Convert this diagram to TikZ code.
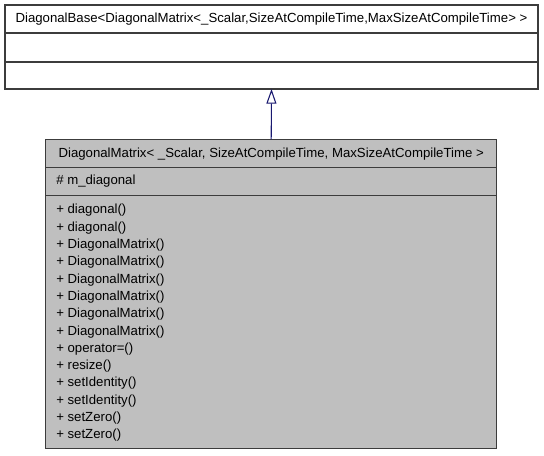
\documentclass[tikz,border=0pt]{standalone}
\usepackage{fontspec}
\setmainfont{Liberation Sans}
\usepackage{xcolor}
\usepackage{tikz}
\usetikzlibrary{arrows.meta,positioning}
\definecolor{classgray}{RGB}{191,191,191}
\definecolor{edgeblue}{RGB}{25,25,112}
\definecolor{framegray}{RGB}{60,60,60}
\tikzset{
  classbox/.style={draw=framegray,line width=0.8pt,inner sep=0pt,outer sep=0pt},
  basebox/.style={classbox,fill=white,minimum width=399.75pt},
  derivedbox/.style={classbox,fill=classgray,minimum width=338.25pt},
  member/.style={anchor=base west,inner sep=0pt},
  inherit/.style={-{Triangle[open,length=11pt,width=7.5pt,fill=white]},line width=0.8pt,draw=edgeblue}
}

\begin{document}
\begin{tikzpicture}[
  x=0.75pt,y=-0.75pt,
  font=\fontsize{9.9}{11.5}\selectfont
]
  \useasboundingbox (0,0) rectangle (544,456);

  % base class
  \node[basebox,minimum height=21pt,anchor=north west] (dbname) at (5,5)
    {DiagonalBase<DiagonalMatrix<\_Scalar,SizeAtCompileTime,MaxSizeAtCompileTime> >};
  \node[basebox,minimum height=21.75pt,below=0pt of dbname] (dbattr) {};
  \node[basebox,minimum height=20.25pt,below=0pt of dbattr] (dbops) {};

  % derived class
  \node[derivedbox,minimum height=21.15pt,anchor=north west] (dmname) at (45.7,139.5)
    {DiagonalMatrix< \_Scalar, SizeAtCompileTime, MaxSizeAtCompileTime >};
  \node[derivedbox,minimum height=21pt,below=0pt of dmname] (dmattr) {};
  \node[derivedbox,minimum height=189.45pt,below=0pt of dmattr] (dmops) {};

  \node[member] (mdiag) at (56,185) {\# m\_diagonal};

  \foreach \m [count=\i] in {diagonal(),diagonal(),DiagonalMatrix(),DiagonalMatrix(),
      DiagonalMatrix(),DiagonalMatrix(),DiagonalMatrix(),DiagonalMatrix(),
      {operator=()},resize(),setIdentity(),setIdentity(),setZero(),setZero()}{
    \node[member] (op\i) at (56,{214+17.3*(\i-1)}) {+ \m};
  }

  \draw[inherit] (dmname.north) -- (dbops.south);
\end{tikzpicture}
\end{document}
